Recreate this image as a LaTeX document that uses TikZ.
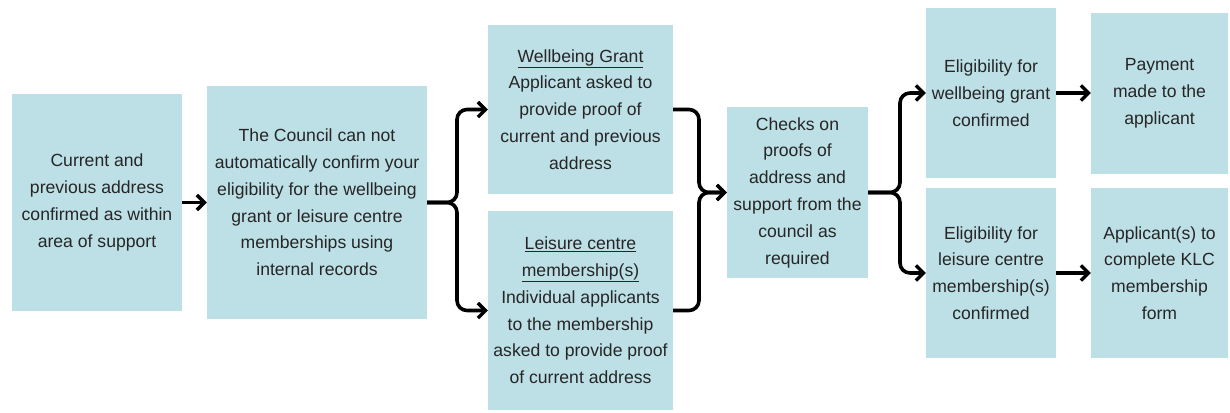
\documentclass[tikz,border=0pt]{standalone}
\usepackage{fontspec}
\setmainfont{Liberation Sans}
\usetikzlibrary{arrows.meta}
\definecolor{boxblue}{HTML}{BDDFE6}
\definecolor{ink}{HTML}{262626}
\begin{document}
\begin{tikzpicture}[x=1pt,y=-1pt,
  box/.style={fill=boxblue, draw=none, inner sep=0pt, align=center,
    text=ink, font=\fontsize{17.6}{26.8}\selectfont},
  conn/.style={line width=3.6pt, black, rounded corners=10pt, line cap=butt},
  arr/.style={conn, -{Straight Barb[length=7.5pt,width=15pt,line width=3.4pt]}}]
\useasboundingbox (0,0) rectangle (1230,412);

% process boxes
\node[box, minimum width=170pt, minimum height=217pt] (b1) at (97,202.5)
  {Current and\\previous address\\confirmed as within\\area of support};
\node[box, minimum width=220pt, minimum height=233pt] (b2) at (317,202.5)
  {The Council can not\\automatically confirm your\\eligibility for the wellbeing\\grant or leisure centre\\memberships using\\internal records};
\node[box, minimum width=185pt, minimum height=169pt] (b3) at (580.5,109.5)
  {\underline{Wellbeing Grant}\\Applicant asked to\\provide proof of\\current and previous\\address};
\node[box, minimum width=185pt, minimum height=199pt] (b4) at (580.5,310.5)
  {\underline{Leisure centre}\\\underline{membership(s)}\\Individual applicants\\to the membership\\asked to provide proof\\of current address};
\node[box, minimum width=141pt, minimum height=171pt] (b5) at (797.5,192.5)
  {Checks on\\proofs of\\address and\\support from the\\council as\\required};
\node[box, minimum width=130pt, minimum height=170pt] (b6) at (991,93)
  {Eligibility for\\wellbeing grant\\confirmed};
\node[box, minimum width=137pt, minimum height=161pt] (b7) at (1159.5,93.5)
  {Payment\\made to the\\applicant};
\node[box, minimum width=130pt, minimum height=170pt] (b8) at (991,273)
  {Eligibility for\\leisure centre\\membership(s)\\confirmed};
\node[box, minimum width=137pt, minimum height=170pt] (b9) at (1159.5,273)
  {Applicant(s) to\\complete KLC\\membership\\form};

% brace junctions
\coordinate (j1) at (457,202.5);
\coordinate (j2) at (699,192.5);
\coordinate (j3) at (900,192.5);

% connectors
\draw[arr] (b1.east) -- (b2.west);
\draw[arr] (b2.east) -- (j1) |- (b3.west);
\draw[arr] (b2.east) -- (j1) |- (b4.west);
\draw[arr] (b3.east) -| (j2) -- (b5.west);
\draw[arr] (b4.east) -| (j2) -- (b5.west);
\draw[arr] (b5.east) -- (j3) |- (b6.west);
\draw[arr] (b5.east) -- (j3) |- (b8.west);
\draw[arr] (b6.east) -- (b7.west |- b6.east);
\draw[arr] (b8.east) -- (b9.west |- b8.east);
\end{tikzpicture}
\end{document}
